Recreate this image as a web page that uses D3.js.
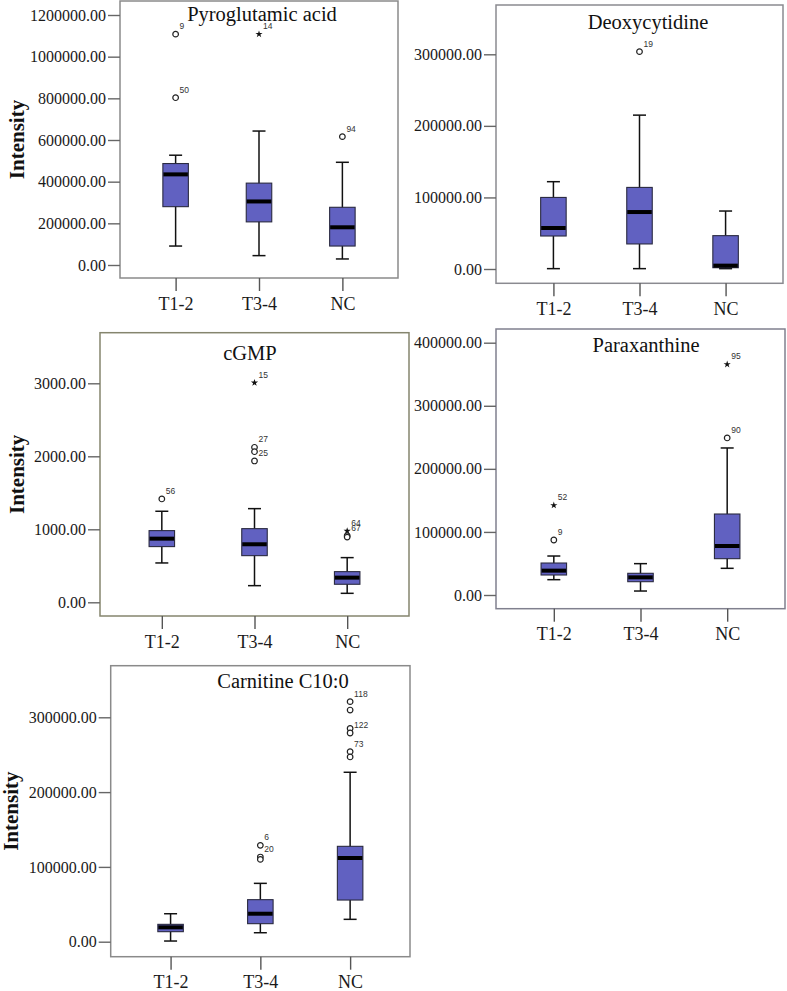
<!DOCTYPE html>
<html>
<head>
<meta charset="utf-8">
<script src="https://cdn.jsdelivr.net/npm/d3@7/dist/d3.min.js"></script>
<style>
  html, body { margin: 0; padding: 0; background: #ffffff; }
  svg { display: block; }
  .serif { font-family: "Liberation Serif", "Times New Roman", Times, serif; }
  .sans { font-family: "Liberation Sans", Arial, sans-serif; }
</style>
</head>
<body>
<svg id="chart" width="787" height="991"></svg>
<script>
// ---------------- DATA ----------------
const groups = ["T1-2", "T3-4", "NC"];

// box statistics per group: [min, Q1, median, Q3, max]
const pyroglutamicBoxes = [
  [91000, 280000, 435000, 487000, 527000],
  [45000, 207000, 305000, 393000, 643000],
  [29000, 91000, 181000, 277000, 493000]
];
// outliers: [group, value, case label, marker]
const pyroglutamicOutliers = [
  ["T1-2", 1108000, "9", "circle"],
  ["T1-2", 803000, "50", "circle"],
  ["T3-4", 1108000, "14", "star"],
  ["NC", 616000, "94", "circle"]
];
const pyroglutamicTicks = [0, 200000, 400000, 600000, 800000, 1000000, 1200000];

const deoxycytidineBoxes = [
  [500, 46100, 57300, 100000, 122000],
  [500, 35000, 79600, 114000, 215000],
  [500, 1800, 4700, 46600, 81000]
];
const deoxycytidineOutliers = [
  ["T3-4", 303700, "19", "circle"]
];
const deoxycytidineTicks = [0, 100000, 200000, 300000];

const cgmpBoxes = [
  [539, 763, 872, 982, 1247],
  [228, 639, 795, 1009, 1283],
  [123, 247, 338, 420, 612]
];
const cgmpOutliers = [
  ["T1-2", 1416, "56", "circle"],
  ["T3-4", 3008, "15", "star"],
  ["T3-4", 2123, "27", "circle"],
  ["T3-4", 2063, "", "circle"],
  ["T3-4", 1936, "25", "circle"],
  ["NC", 977, "64", "star"],
  ["NC", 912, "67", "circle"],
  ["NC", 893, "", "circle"]
];
const cgmpTicks = [0, 1000, 2000, 3000];

const paraxanthineBoxes = [
  [24300, 31700, 38600, 50700, 61800],
  [6300, 21100, 28000, 34400, 49700],
  [42300, 57600, 77700, 128400, 233100]
];
const paraxanthineOutliers = [
  ["T1-2", 87200, "9", "circle"],
  ["T1-2", 142200, "52", "star"],
  ["NC", 249000, "90", "circle"],
  ["NC", 365700, "95", "star"]
];
const paraxanthineTicks = [0, 100000, 200000, 300000, 400000];

const carnitineBoxes = [
  [900, 13400, 19200, 23200, 37400],
  [12000, 24100, 37400, 56200, 78000],
  [29900, 55700, 111900, 127500, 226500]
];
const carnitineOutliers = [
  ["T3-4", 128800, "6", "circle"],
  ["T3-4", 113200, "20", "circle"],
  ["T3-4", 110000, "", "circle"],
  ["NC", 320900, "118", "circle"],
  ["NC", 309700, "", "circle"],
  ["NC", 285000, "", "circle"],
  ["NC", 279000, "122", "circle"],
  ["NC", 254000, "73", "circle"],
  ["NC", 247000, "", "circle"]
];
const carnitineTicks = [0, 100000, 200000, 300000];

// ---------------- LAYOUT ----------------
const panels = [
  { title: "Pyroglutamic acid", boxes: pyroglutamicBoxes, outliers: pyroglutamicOutliers, ticks: pyroglutamicTicks,
    frame: [120, 1, 398, 278], yZero: 265, yTop: 15, titleX: 262, titleDy: 19.5, ylabel: true, ylabelBase: 24, frameColor: "#8a8a8a" },
  { title: "Deoxycytidine", boxes: deoxycytidineBoxes, outliers: deoxycytidineOutliers, ticks: deoxycytidineTicks,
    frame: [496, 5, 783, 283.3], yZero: 269, yTop: 54.3, titleX: 648, titleDy: 24, ylabel: false, frameColor: "#8a8a90" },
  { title: "cGMP", boxes: cgmpBoxes, outliers: cgmpOutliers, ticks: cgmpTicks,
    frame: [100, 332.7, 409, 616], yZero: 602.3, yTop: 383.3, titleX: 250, titleDy: 27, ylabel: true, ylabelBase: 24, frameColor: "#85856e" },
  { title: "Paraxanthine", boxes: paraxanthineBoxes, outliers: paraxanthineOutliers, ticks: paraxanthineTicks,
    frame: [496, 329, 785, 608.7], yZero: 595, yTop: 342.7, titleX: 646, titleDy: 23, ylabel: false, frameColor: "#80808e" },
  { title: "Carnitine C10:0", boxes: carnitineBoxes, outliers: carnitineOutliers, ticks: carnitineTicks,
    frame: [110.7, 665.7, 410, 956.7], yZero: 941.7, yTop: 717.3, titleX: 283, titleDy: 22, ylabel: true, ylabelBase: 18, frameColor: "#8a8a8a" }
];

const svg = d3.select("#chart");
const boxFill = "#6161c1";
const boxWidth = 25.5;
const capWidth = 13;

panels.forEach(p => {
  const [x0, y0, x1, y1] = p.frame;
  const g = svg.append("g");

  const x = d3.scalePoint().domain(groups).range([x0, x1]).padding(0.667);
  const y = d3.scaleLinear().domain([0, d3.max(p.ticks)]).range([p.yZero, p.yTop]);

  // frame
  g.append("rect")
    .attr("x", x0).attr("y", y0)
    .attr("width", x1 - x0).attr("height", y1 - y0)
    .attr("fill", "none").attr("stroke", p.frameColor).attr("stroke-width", 1.5);

  // y axis
  const yAxis = g.append("g")
    .attr("transform", `translate(${x0},0)`)
    .call(d3.axisLeft(y).tickValues(p.ticks).tickSize(12).tickPadding(2).tickFormat(d3.format(".2f")));
  yAxis.attr("font-family", null).attr("font-size", null);
  yAxis.select(".domain").remove();
  yAxis.selectAll(".tick line").attr("stroke", "#666").attr("stroke-width", 1.4);
  yAxis.selectAll(".tick text")
    .attr("class", "serif")
    .style("font-size", "16px").attr("fill", "#1a1a1a");

  // x axis
  const xAxis = g.append("g")
    .attr("transform", `translate(0,${y1})`)
    .call(d3.axisBottom(x).tickSize(13).tickPadding(4));
  xAxis.attr("font-family", null).attr("font-size", null);
  xAxis.select(".domain").remove();
  xAxis.selectAll(".tick line").attr("stroke", "#555").attr("stroke-width", 1.4);
  xAxis.selectAll(".tick text")
    .attr("class", "serif")
    .style("font-size", "18px").attr("fill", "#1a1a1a")
    .attr("y", 31.5).attr("dy", null);

  // title
  g.append("text")
    .attr("class", "serif")
    .attr("x", p.titleX).attr("y", y0 + p.titleDy)
    .attr("text-anchor", "middle")
    .style("font-size", "20.5px").attr("fill", "#111")
    .text(p.title);

  // y label
  if (p.ylabel) {
    const cy = (y0 + y1) / 2;
    g.append("text")
      .attr("class", "serif")
      .attr("transform", `translate(${p.ylabelBase},${cy}) rotate(-90)`)
      .attr("text-anchor", "middle")
      .style("font-size", "21px").style("font-weight", "bold").attr("fill", "#111")
      .text("Intensity");
  }

  // boxes
  const bg = g.selectAll("g.box").data(p.boxes.map((b, i) => ({ group: groups[i], s: b })))
    .join("g").attr("class", "box");

  // whiskers
  bg.append("line")
    .attr("x1", d => x(d.group)).attr("x2", d => x(d.group))
    .attr("y1", d => y(d.s[4])).attr("y2", d => y(d.s[0]))
    .attr("stroke", "#111").attr("stroke-width", 1.5);
  bg.append("line")
    .attr("x1", d => x(d.group) - capWidth / 2).attr("x2", d => x(d.group) + capWidth / 2)
    .attr("y1", d => y(d.s[4])).attr("y2", d => y(d.s[4]))
    .attr("stroke", "#111").attr("stroke-width", 1.5);
  bg.append("line")
    .attr("x1", d => x(d.group) - capWidth / 2).attr("x2", d => x(d.group) + capWidth / 2)
    .attr("y1", d => y(d.s[0])).attr("y2", d => y(d.s[0]))
    .attr("stroke", "#111").attr("stroke-width", 1.5);

  // box
  bg.append("rect")
    .attr("x", d => x(d.group) - boxWidth / 2)
    .attr("y", d => y(d.s[3]))
    .attr("width", boxWidth)
    .attr("height", d => Math.max(1, y(d.s[1]) - y(d.s[3])))
    .attr("fill", boxFill).attr("stroke", "#2a2a40").attr("stroke-width", 1.1);

  // median
  bg.append("line")
    .attr("x1", d => x(d.group) - boxWidth / 2 + 0.5).attr("x2", d => x(d.group) + boxWidth / 2 - 0.5)
    .attr("y1", d => y(d.s[2])).attr("y2", d => y(d.s[2]))
    .attr("stroke", "#000").attr("stroke-width", 4);

  // outliers
  const og = g.selectAll("g.out").data(p.outliers.map(o => ({ group: o[0], value: o[1], label: o[2], type: o[3] })))
    .join("g").attr("class", "out")
    .attr("transform", d => `translate(${x(d.group)},${y(d.value)})`);

  og.filter(d => d.type === "circle").append("circle")
    .attr("r", 2.8).attr("fill", "#fff").attr("stroke", "#222").attr("stroke-width", 1.2);
  og.filter(d => d.type === "star").append("path")
    .attr("d", d3.symbol().type(d3.symbolStar).size(16))
    .attr("fill", "#111");
  og.filter(d => d.label !== "").append("text")
    .attr("class", "sans")
    .attr("x", 4).attr("y", -5)
    .style("font-size", "8.5px").attr("fill", "#333")
    .text(d => d.label);
});
</script>
</body>
</html>
